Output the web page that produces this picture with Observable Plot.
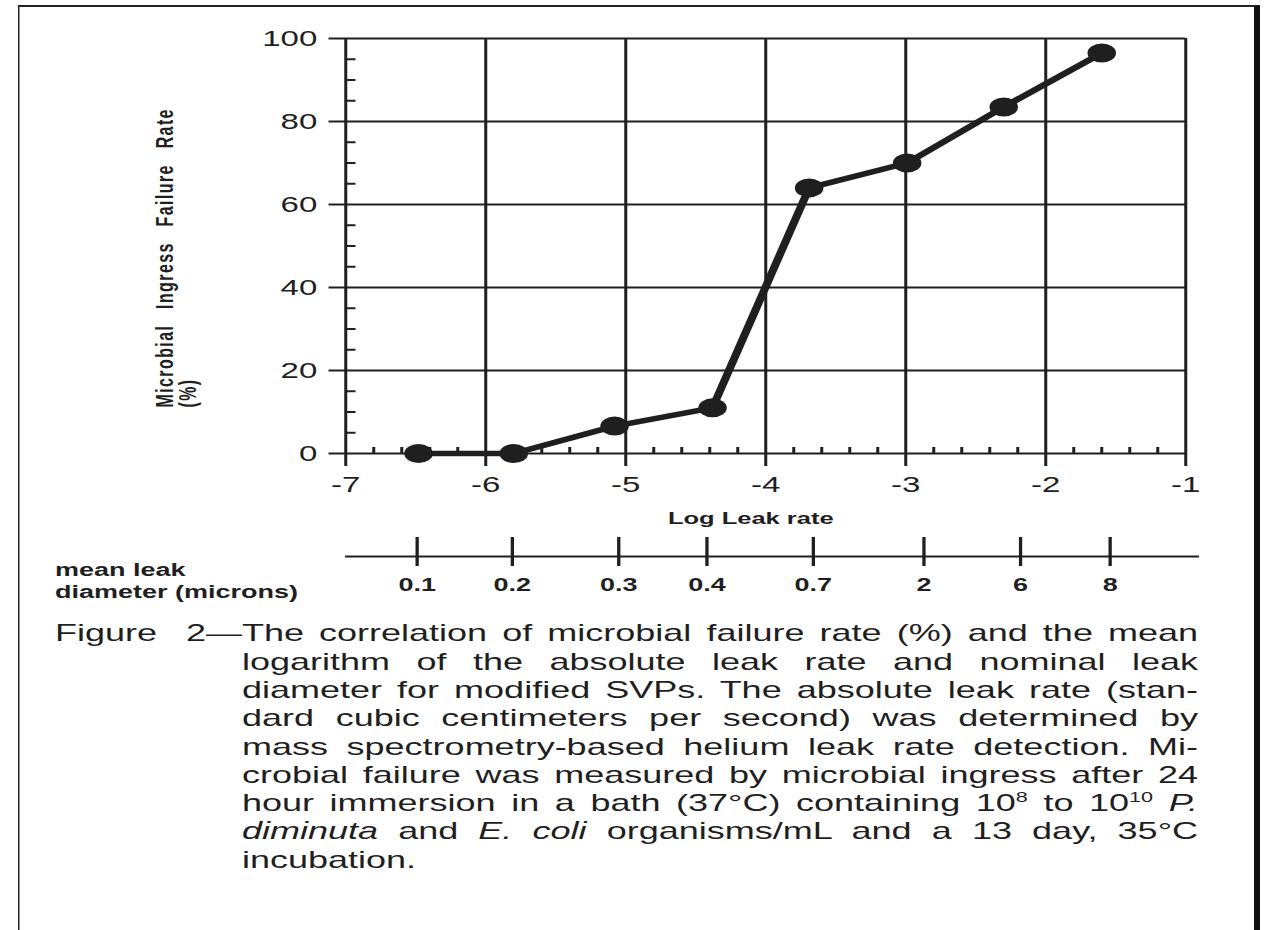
<!DOCTYPE html>
<html>
<head>
<meta charset="utf-8">
<script src="https://cdn.jsdelivr.net/npm/d3@7"></script>
<script src="https://cdn.jsdelivr.net/npm/@observablehq/plot@0.6"></script>
<style>
  html, body { margin: 0; padding: 0; background: #fff; overflow: hidden; }
  #page {
    position: relative; width: 843px; height: 930px; overflow: hidden;
    transform: scaleX(1.5); transform-origin: 0 0;
    font-family: "Liberation Sans", Arial, Helvetica, sans-serif; color: #1f1f1f;
  }
  #border {
    position: absolute; left: 12.2px; top: 4.7px; width: 822.9px; height: 960px;
    border-top: 2.6px solid #222; border-left: 1.6px solid #222; border-right: 4px solid #111;
  }
  #main { position: absolute; left: 0; top: 0; }
  #sec { position: absolute; left: 0; top: 500px; }
  #diam {
    position: absolute; left: 36.7px; top: 558.8px; font-size: 18px; line-height: 22px;
    font-weight: bold; white-space: nowrap;
  }
  #figlab {
    position: absolute; left: 36.7px; top: 619.4px; width: 124.6px;
    display: flex; justify-content: space-between;
    font-size: 24px; line-height: 28.3px; white-space: nowrap;
  }
  #cap {
    position: absolute; left: 161.3px; top: 619.4px; width: 637.4px;
    font-size: 24px; line-height: 28.3px;
  }
  #cap .ln { text-align: justify; text-align-last: justify; }
  #cap .ln.last { text-align: left; text-align-last: left; }
  sup { font-size: 0.6em; line-height: 0; vertical-align: 0.6em; }
</style>
</head>
<body>
<div id="page">
  <div id="border"></div>
  <div id="main"></div>
  <div id="sec"></div>
  <div id="diam"></div>
  <div id="figlab"></div>
  <div id="cap"></div>
</div>
<script>
// ---- data ----
const logLeakRate = [-6.48, -5.80, -5.08, -4.38, -3.69, -2.99, -2.30, -1.60];
const failureRate = [0, 0, 6.6, 11, 64, 70, 83.5, 96.5];

const xTicks = [-7, -6, -5, -4, -3, -2, -1];
const yTicks = [0, 20, 40, 60, 80, 100];

// secondary scale: mean leak diameter (microns), placed on the log-leak-rate axis
const diamPos = [-6.49, -5.81, -5.05, -4.42, -3.66, -2.87, -2.18, -1.54];
const diamLabels = ["0.1", "0.2", "0.3", "0.4", "0.7", "2", "6", "8"];
const diamLineExtent = [-7, -0.9];

const yLabel = "Microbial Ingress Failure Rate\n(%)";
const xLabel = "Log Leak rate";
const diamTitle = ["mean leak", "diameter (microns)"];
const figNumber = ["Figure", "2—"];
const captionLines = [
  "The correlation of microbial failure rate (%) and the mean",
  "logarithm of the absolute leak rate and nominal leak",
  "diameter for modified SVPs. The absolute leak rate (stan-",
  "dard cubic centimeters per second) was determined by",
  "mass spectrometry-based helium leak rate detection. Mi-",
  "crobial failure was measured by microbial ingress after 24",
  "hour immersion in a bath (37°C) containing 10<sup>8</sup> to 10<sup>10</sup> <i>P.</i>",
  "<i>diminuta</i> and <i>E. coli</i> organisms/mL and a 13 day, 35°C",
  "incubation."
];

// minor tick positions
const xMinor = d3.range(-7, -1.0001, 0.2).filter(v => Math.abs(v - Math.round(v)) > 1e-6);
const yMinor = d3.range(0, 100, 5).filter(v => v % 20 !== 0);

const ink = "#1f1f1f";
const data = logLeakRate.map((x, i) => ({x, y: failureRate[i]}));
const fontFamily = '"Liberation Sans", Arial, Helvetica, sans-serif';

const main = Plot.plot({
  width: 843, height: 540,
  marginLeft: 230, marginRight: 53, marginTop: 38, marginBottom: 87,
  x: {domain: [-7, -1], label: null},
  y: {domain: [0, 100], label: null},
  style: {fontFamily, color: ink, background: "transparent", overflow: "visible"},
  marks: [
    Plot.ruleX(xTicks, {stroke: ink, strokeWidth: 2}),
    Plot.ruleY(yTicks, {stroke: ink, strokeWidth: 2}),
    Plot.axisX(xTicks, {tickSize: 13, tickPadding: 10, tickFormat: d => String(d), fontSize: 22,
      stroke: ink, strokeWidth: 2, label: null}),
    Plot.axisX(xMinor, {tickSize: -6, tickFormat: () => "", stroke: ink, strokeWidth: 2, label: null}),
    Plot.axisY(yTicks, {tickSize: 11, tickPadding: 8, fontSize: 22, stroke: ink, strokeWidth: 2, label: null}),
    Plot.axisY(yMinor, {tickSize: -7, tickFormat: () => "", stroke: ink, strokeWidth: 2, label: null}),
    Plot.line(data, {x: "x", y: "y", stroke: ink, strokeWidth: 5.5, strokeLinejoin: "round"}),
    Plot.dot(data, {x: "x", y: "y", r: 9.5, fill: ink, stroke: null}),
    Plot.text([yLabel], {text: d => d, frameAnchor: "bottom-left", rotate: -90, textAnchor: "start",
      lineAnchor: "top", dx: -126, dy: -46, fontSize: 16, fontWeight: "bold", lineHeight: 0.95, fill: ink}),
    Plot.text([xLabel], {text: d => d, frameAnchor: "bottom", lineAnchor: "middle", dx: -10, dy: 65,
      fontSize: 17, fontWeight: "bold", fill: ink})
  ]
});
d3.select(main).selectAll("text").filter(function() { return this.textContent.includes("Microbial"); })
  .style("letter-spacing", "1.4px").style("word-spacing", "10px");
document.getElementById("main").appendChild(main);

const labelOf = new Map(diamPos.map((p, i) => [p, diamLabels[i]]));
const sec = Plot.plot({
  width: 843, height: 110,
  marginLeft: 230, marginRight: 53, marginTop: 37, marginBottom: 54,
  x: {domain: [-7, -1], label: null},
  y: {domain: [0, 1], axis: null},
  style: {fontFamily, color: ink, background: "transparent", overflow: "visible"},
  marks: [
    Plot.ruleY([0], {x1: diamLineExtent[0], x2: diamLineExtent[1], stroke: ink, strokeWidth: 2}),
    Plot.ruleX(diamPos, {stroke: ink, strokeWidth: 2.2}),
    Plot.axisX(diamPos, {tickSize: 10, tickPadding: 12, tickFormat: d => labelOf.get(d), fontSize: 18,
      fontWeight: "bold", stroke: ink, strokeWidth: 2.2, label: null})
  ]
});
document.getElementById("sec").appendChild(sec);

document.getElementById("diam").innerHTML = diamTitle.join("<br>");
document.getElementById("figlab").innerHTML = figNumber.map(s => `<span>${s}</span>`).join("");
document.getElementById("cap").innerHTML = captionLines
  .map((s, i) => `<div class="ln${i === captionLines.length - 1 ? " last" : ""}">${s}</div>`).join("");
</script>
</body>
</html>
